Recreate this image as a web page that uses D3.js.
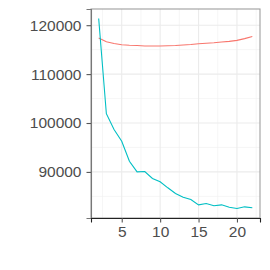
<!DOCTYPE html>
<html>
<head>
<meta charset="utf-8">
<script src="https://cdn.jsdelivr.net/npm/d3@7"></script>
<style>
  body { margin: 0; background: #fff; }
  svg text { font-family: "Liberation Sans", Arial, sans-serif; }
</style>
</head>
<body>
<div id="chart"></div>
<script>
var xValues = [2, 3, 4, 5, 6, 7, 8, 9, 10, 11, 12, 13, 14, 15, 16, 17, 18, 19, 20, 21, 22];
var redSeries = [117400, 116600, 116250, 116000, 115900, 115850, 115750, 115750, 115750, 115800, 115850,
    115950, 116050, 116200, 116300, 116400, 116550, 116700, 116900, 117250, 117700];
var tealSeries = [121370, 101900, 98670, 96280, 92190, 90020, 90080, 88650, 87975, 86750, 85580,
    84830, 84360, 83270, 83540, 83070, 83270, 82780, 82520, 82860, 82660];
var xTicks = [5, 10, 15, 20];
var yTicks = [90000, 100000, 110000, 120000];

var w = 270, h = 270;
var panel = { left: 91, top: 9, right: 260, bottom: 218 };

var svg = d3.select('#chart').append('svg')
    .attr('width', w)
    .attr('height', h);

var x = d3.scaleLinear().domain([1, 23]).range([panel.left, panel.right]);
var allY = redSeries.concat(tealSeries);
var yMin = d3.min(allY), yMax = d3.max(allY);
var pad = (yMax - yMin) * 0.05;
var y = d3.scaleLinear().domain([yMin - pad, yMax + pad]).range([panel.bottom, panel.top]);

// grid, minor then major
var xMinor = [2.5, 7.5, 12.5, 17.5, 22.5];
var yMinor = [85000, 95000, 105000, 115000];

svg.append('g').selectAll('line').data(xMinor).enter().append('line')
    .attr('x1', d => x(d)).attr('x2', d => x(d))
    .attr('y1', panel.top).attr('y2', panel.bottom)
    .attr('stroke', '#f0f0f0').attr('stroke-width', 0.6);
svg.append('g').selectAll('line').data(yMinor).enter().append('line')
    .attr('y1', d => y(d)).attr('y2', d => y(d))
    .attr('x1', panel.left).attr('x2', panel.right)
    .attr('stroke', '#f0f0f0').attr('stroke-width', 0.6);
svg.append('g').selectAll('line').data(xTicks).enter().append('line')
    .attr('x1', d => x(d)).attr('x2', d => x(d))
    .attr('y1', panel.top).attr('y2', panel.bottom)
    .attr('stroke', '#ebebeb').attr('stroke-width', 1.1);
svg.append('g').selectAll('line').data(yTicks).enter().append('line')
    .attr('y1', d => y(d)).attr('y2', d => y(d))
    .attr('x1', panel.left).attr('x2', panel.right)
    .attr('stroke', '#ebebeb').attr('stroke-width', 1.1);

// lines
var line = d3.line().x((d, i) => x(xValues[i])).y(d => y(d));

svg.append('path').datum(redSeries)
    .attr('d', line)
    .attr('fill', 'none')
    .attr('stroke', '#F8766D')
    .attr('stroke-width', 1.1);

svg.append('path').datum(tealSeries)
    .attr('d', line)
    .attr('fill', 'none')
    .attr('stroke', '#00BFC4')
    .attr('stroke-width', 1.1);

// panel border
svg.append('rect')
    .attr('x', panel.left).attr('y', panel.top)
    .attr('width', panel.right - panel.left).attr('height', panel.bottom - panel.top)
    .attr('fill', 'none')
    .attr('stroke', '#9e9e9e')
    .attr('stroke-width', 1.1);

// axes
var yAxis = svg.append('g')
    .attr('transform', 'translate(' + panel.left + ',0)')
    .call(d3.axisLeft(y).tickValues(yTicks).tickSize(4.5).tickPadding(5).tickFormat(d3.format('d')));
var xAxis = svg.append('g')
    .attr('transform', 'translate(0,' + panel.bottom + ')')
    .call(d3.axisBottom(x).tickValues(xTicks).tickSize(4.5).tickPadding(3));

yAxis.select('.domain').attr('stroke', '#777').attr('stroke-width', 1.1);
xAxis.select('.domain').attr('stroke', '#222').attr('stroke-width', 1.1);
svg.selectAll('.tick line').attr('stroke', '#555').attr('stroke-width', 1.1);
svg.selectAll('.tick text')
    .attr('fill', '#4d4d4d')
    .style('font-size', '15.5px');
</script>
</body>
</html>
